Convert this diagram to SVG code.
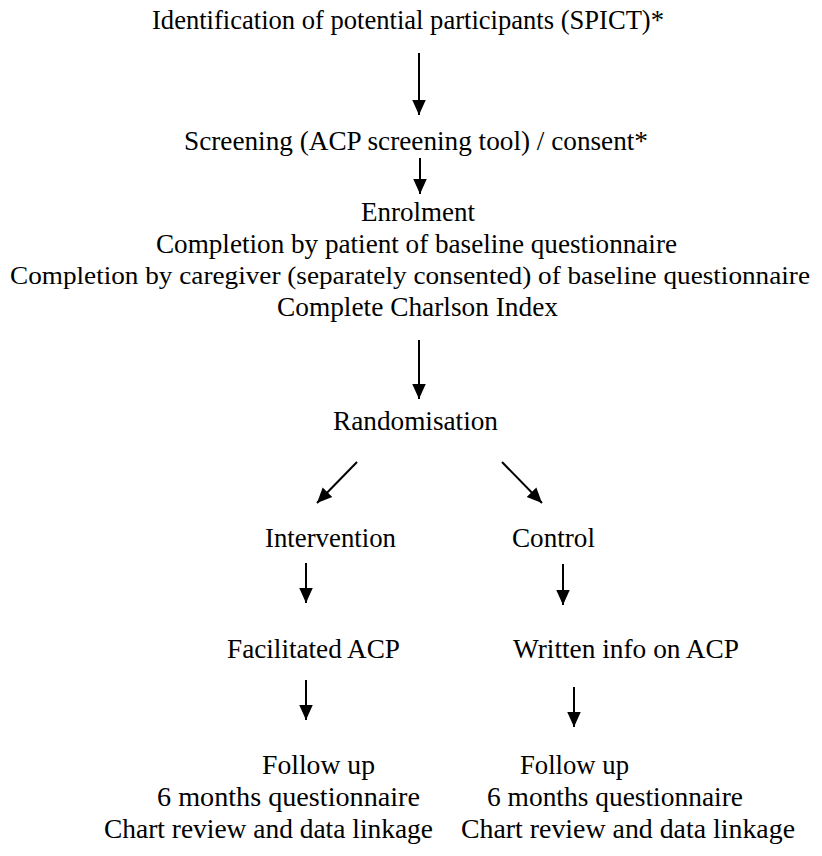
<svg xmlns="http://www.w3.org/2000/svg" width="822" height="856" viewBox="0 0 822 856">
<style>
text{font-family:"Liberation Serif","Times New Roman",serif;font-size:28px;fill:#000;text-anchor:start}
text.w{font-size:26px}
.c line{stroke:#000;stroke-width:2}
</style>
<defs><marker id="ah" viewBox="0 0 10 10" refX="10" refY="5" markerWidth="7.5" markerHeight="7.5" markerUnits="strokeWidth" orient="auto"><path d="M0,0.5L10,5L0,9.5z" fill="#000"/></marker></defs>
<rect width="822" height="856" fill="#fff"/>
<g id="n1"><text x="152" y="29" textLength="512" lengthAdjust="spacingAndGlyphs">Identification of potential participants (SPICT)*</text></g>
<g id="n2"><text x="184" y="150" textLength="464" lengthAdjust="spacingAndGlyphs">Screening (ACP screening tool) / consent*</text></g>
<g id="n3">
<text x="361" y="221" textLength="114" lengthAdjust="spacingAndGlyphs">Enrolment</text>
<text x="156" y="253" textLength="521" lengthAdjust="spacingAndGlyphs">Completion by patient of baseline questionnaire</text>
<text class="w" x="10" y="284" textLength="800" lengthAdjust="spacingAndGlyphs">Completion by caregiver (separately consented) of baseline questionnaire</text>
<text x="277" y="316" textLength="281" lengthAdjust="spacingAndGlyphs">Complete Charlson Index</text>
</g>
<g id="n4"><text x="333" y="430" textLength="165" lengthAdjust="spacingAndGlyphs">Randomisation</text></g>
<g id="n5"><text x="265" y="547" textLength="131" lengthAdjust="spacingAndGlyphs">Intervention</text></g>
<g id="n6"><text x="512" y="547" textLength="83" lengthAdjust="spacingAndGlyphs">Control</text></g>
<g id="n7"><text x="227" y="658" textLength="173" lengthAdjust="spacingAndGlyphs">Facilitated ACP</text></g>
<g id="n8"><text x="513" y="658" textLength="226" lengthAdjust="spacingAndGlyphs">Written info on ACP</text></g>
<g id="n9">
<text x="262" y="774" textLength="113" lengthAdjust="spacingAndGlyphs">Follow up</text>
<text x="157" y="806" textLength="263" lengthAdjust="spacingAndGlyphs">6 months questionnaire</text>
<text x="104" y="838" textLength="329" lengthAdjust="spacingAndGlyphs">Chart review and data linkage</text>
</g>
<g id="n10">
<text x="520" y="774" textLength="109" lengthAdjust="spacingAndGlyphs">Follow up</text>
<text x="487" y="806" textLength="256" lengthAdjust="spacingAndGlyphs">6 months questionnaire</text>
<text x="461" y="838" textLength="334" lengthAdjust="spacingAndGlyphs">Chart review and data linkage</text>
</g>
<g class="c" id="connectors">
<line x1="419" y1="53" x2="419" y2="115" marker-end="url(#ah)"/>
<line x1="420" y1="158" x2="420" y2="194" marker-end="url(#ah)"/>
<line x1="419" y1="340" x2="419" y2="399" marker-end="url(#ah)"/>
<line x1="357" y1="462" x2="317" y2="503" marker-end="url(#ah)"/>
<line x1="502" y1="462" x2="542" y2="503" marker-end="url(#ah)"/>
<line x1="306" y1="563" x2="306" y2="603" marker-end="url(#ah)"/>
<line x1="563" y1="564" x2="563" y2="605" marker-end="url(#ah)"/>
<line x1="306" y1="680" x2="306" y2="720" marker-end="url(#ah)"/>
<line x1="574" y1="687" x2="574" y2="727" marker-end="url(#ah)"/>
</g>
</svg>
